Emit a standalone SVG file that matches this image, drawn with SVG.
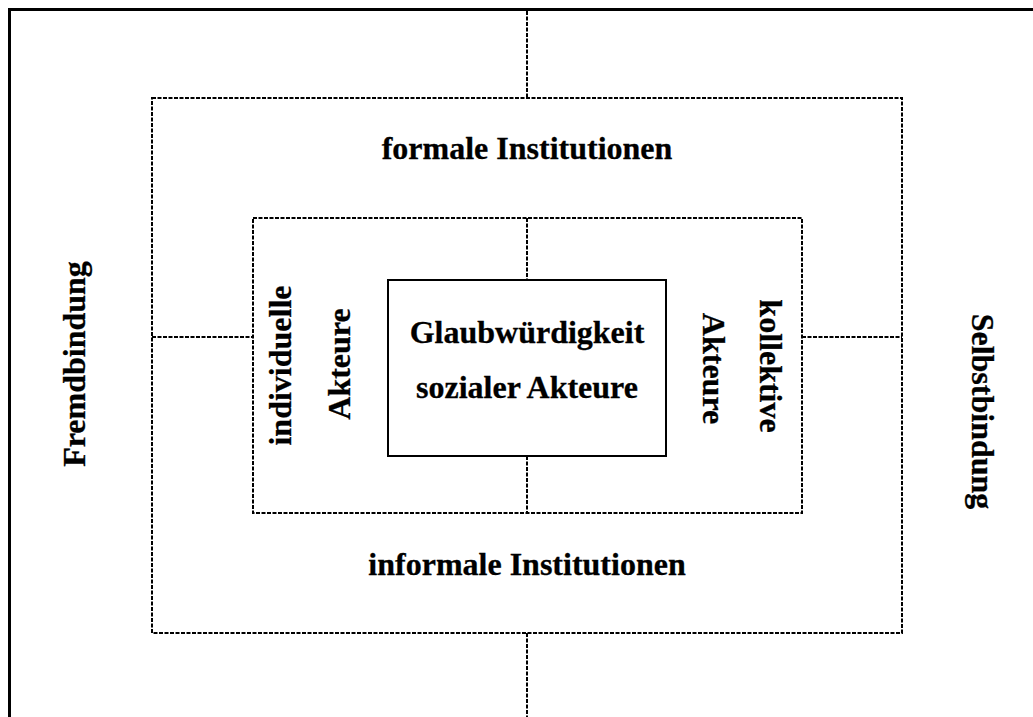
<svg xmlns="http://www.w3.org/2000/svg" width="1033" height="717" viewBox="0 0 1033 717">
<style>
.frame{fill:none;stroke:#000;stroke-width:3}
.dash{fill:none;stroke:#000;stroke-width:2;stroke-dasharray:4 1.5}
.box{fill:#fff;stroke:#000;stroke-width:2}
text{font-family:"Liberation Serif","Times New Roman",serif;font-weight:bold;font-size:32px;fill:#000;stroke:#000;stroke-width:0.3}
.m{text-anchor:middle}
</style>
<rect width="1033" height="717" fill="#fff"/>
<g id="frame">
<path class="frame" d="M9.5,717 V9.5 H1033"/>
</g>
<g id="connectors">
<line class="dash" x1="527" y1="11" x2="527" y2="98"/>
<line class="dash" x1="527" y1="633" x2="527" y2="717"/>
<line class="dash" x1="152" y1="337" x2="253" y2="337"/>
<line class="dash" x1="802" y1="337" x2="902" y2="337"/>
<line class="dash" x1="527" y1="218" x2="527" y2="280"/>
<line class="dash" x1="527" y1="456" x2="527" y2="513"/>
</g>
<g id="outer-box">
<rect class="dash" x="152" y="98" width="750" height="535"/>
<text class="m" x="527" y="159">formale Institutionen</text>
<text class="m" x="527" y="575">informale Institutionen</text>
</g>
<g id="inner-box">
<rect class="dash" x="253" y="218" width="549" height="295"/>
<text class="m" transform="translate(291,365.5) rotate(-90)">individuelle</text>
<text class="m" transform="translate(350,364) rotate(-90)">Akteure</text>
<text class="m" transform="translate(760,366) rotate(90)">kollektive</text>
<text class="m" transform="translate(703,368.5) rotate(90)">Akteure</text>
</g>
<g id="center">
<rect class="box" x="388" y="280" width="278" height="176"/>
<text class="m" x="527" y="342.5">Glaubwürdigkeit</text>
<text class="m" x="527" y="398">sozialer Akteure</text>
</g>
<g id="fremdbindung">
<text class="m" transform="translate(85,364) rotate(-90)">Fremdbindung</text>
</g>
<g id="selbstbindung">
<text class="m" transform="translate(972,411.5) rotate(90)">Selbstbindung</text>
</g>
</svg>
